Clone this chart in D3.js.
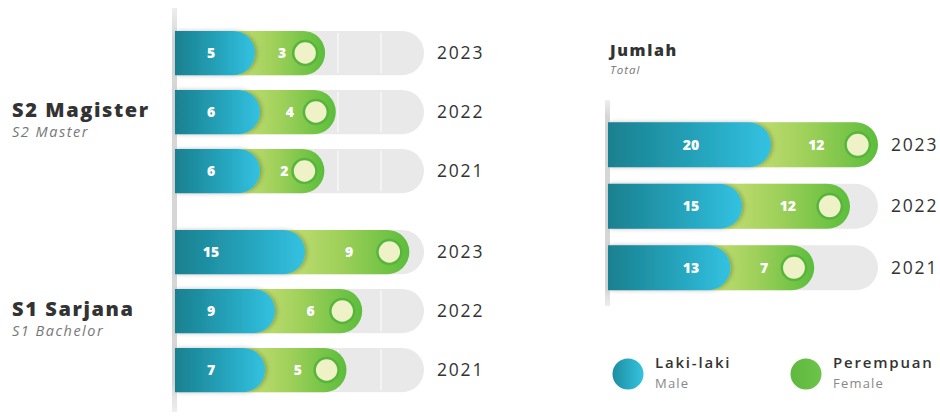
<!DOCTYPE html>
<html><head><meta charset="utf-8">
<script src="https://cdn.jsdelivr.net/npm/d3@7"></script>
<style>
html,body{margin:0;padding:0;background:#fff;}
svg{display:block;}
</style></head>
<body>
<svg id="chart" width="940" height="419"></svg>
<script>
// ---------- data ----------
const years = ["2023", "2022", "2021"];
const s2Male = [5, 6, 6];
const s2Female = [3, 4, 2];
const s1Male = [15, 9, 7];
const s1Female = [9, 6, 5];
const totalMale = [20, 15, 13];
const totalFemale = [12, 12, 7];
const groupTitles = ["S2 Magister", "S1 Sarjana"];
const groupSubtitles = ["S2 Master", "S1 Bachelor"];
const legendLabels = ["Laki-laki", "Perempuan"];
const legendSub = ["Male", "Female"];

// ---------- setup ----------
const svg = d3.select("#chart");
const defs = svg.append("defs");
const FONT = "'Open Sans', 'Noto Sans', sans-serif";

function grad(id, stops) {
  const g = defs.append("linearGradient").attr("id", id)
    .attr("x1", "0%").attr("x2", "100%").attr("y1", "0%").attr("y2", "0%");
  stops.forEach(s => g.append("stop").attr("offset", s[0]).attr("stop-color", s[1]));
}
grad("gMale", [["0%", "#19808f"], ["55%", "#25a3bb"], ["100%", "#33c2e2"]]);
grad("gFemale", [["0%", "#c6df74"], ["45%", "#9fd05a"], ["100%", "#5cbd3c"]]);
const vg = defs.append("linearGradient").attr("id", "gAxis")
  .attr("x1", "0%").attr("x2", "0%").attr("y1", "0%").attr("y2", "100%");
vg.append("stop").attr("offset", "0%").attr("stop-color", "#eeeeee");
vg.append("stop").attr("offset", "8%").attr("stop-color", "#d6d6d6");
vg.append("stop").attr("offset", "92%").attr("stop-color", "#d6d6d6");
vg.append("stop").attr("offset", "100%").attr("stop-color", "#eeeeee");
grad("gLegMale", [["0%", "#1d8ea0"], ["100%", "#35c3e0"]]);
grad("gLegFemale", [["0%", "#5fb93e"], ["100%", "#6cc449"]]);
const f = defs.append("filter").attr("id", "shadow").attr("x", "-10%").attr("y", "-20%")
  .attr("width", "130%").attr("height", "140%");
f.append("feDropShadow").attr("dx", 2).attr("dy", 0).attr("stdDeviation", 2)
  .attr("flood-color", "#000").attr("flood-opacity", 0.25);

function pill(x0, x1, yTop, h) {
  const r = h / 2;
  const xe = Math.max(x0, x1 - r);
  return `M${x0},${yTop}H${xe}A${r},${r} 0 0 1 ${xe},${yTop + h}H${x0}Z`;
}

function drawPanel(cfg) {
  const g = svg.append("g");
  const y = d3.scaleBand().domain(years).range(cfg.yRange)
    .paddingInner(cfg.padIn).paddingOuter(cfg.padOut);
  const h = y.bandwidth();
  const rows = years.map((yr, i) => ({ yr, m: cfg.male[i], f: cfg.female[i] }));

  rows.forEach(d => {
    const yt = y(d.yr);
    const mEnd = cfg.maleEnd(d.m);
    const fEnd = Math.min(cfg.trackEnd, mEnd + cfg.femaleLen(d.f));
    const cx = fEnd - h * 0.45;
    // track
    g.append("path").attr("d", pill(cfg.x0, cfg.trackEnd, yt, h)).attr("fill", "#e9e9e9");
    (cfg.dividers || []).forEach(dx => {
      g.append("rect").attr("x", dx).attr("y", yt + 2).attr("width", 2).attr("height", h - 4)
        .attr("fill", "#f4f4f4");
    });
    // female
    g.append("path").attr("d", pill(mEnd - h / 2, fEnd, yt, h)).attr("fill", "url(#gFemale)");
    // male
    g.append("path").attr("d", pill(cfg.x0, mEnd, yt, h)).attr("fill", "url(#gMale)")
      .attr("filter", "url(#shadow)");
    // knob
    g.append("circle").attr("cx", cx).attr("cy", yt + h / 2).attr("r", h * 0.27)
      .attr("fill", "#eef2c6").attr("stroke", "#58b53c").attr("stroke-width", 2.5);
    // labels
    g.append("text").attr("x", cfg.maleLabelX).attr("y", yt + h / 2 + 5)
      .attr("text-anchor", "middle").attr("fill", "#fff").attr("font-family", FONT)
      .attr("font-weight", 800).attr("font-size", 14).text(d.m);
    g.append("text").attr("x", (mEnd + cx) / 2 + 2).attr("y", yt + h / 2 + 5)
      .attr("text-anchor", "middle").attr("fill", "#fff").attr("font-family", FONT)
      .attr("font-weight", 800).attr("font-size", 14).text(d.f);
    g.append("text").attr("x", cfg.trackEnd + 13).attr("y", yt + h / 2 + 6)
      .attr("fill", "#333").attr("font-family", FONT).attr("font-weight", 500)
      .attr("font-size", 17.5).attr("letter-spacing", 1.8).text(d.yr);
  });

  if (cfg.title) {
    const mid = y(years[1]) + h / 2;
    g.append("text").attr("x", 12).attr("y", mid + 5).attr("fill", "#333")
      .attr("font-family", FONT).attr("font-weight", 800).attr("font-size", 20)
      .attr("letter-spacing", 1.6).text(cfg.title);
    g.append("text").attr("x", 12).attr("y", mid + 25).attr("fill", "#777")
      .attr("font-family", FONT).attr("font-style", "italic").attr("font-size", 14.5)
      .attr("letter-spacing", 1.5).text(cfg.subtitle);
  }
}

// axis strips
svg.append("rect").attr("x", 172).attr("y", 8).attr("width", 5).attr("height", 404)
  .attr("fill", "url(#gAxis)");
svg.append("rect").attr("x", 605).attr("y", 100).attr("width", 5).attr("height", 206)
  .attr("fill", "url(#gAxis)");

// left panel scales
const maleEndL = d3.scaleLinear().domain([0, 15]).range([230, 305]);
const femaleLenL = d3.scaleLinear().domain([0, 10]).range([53, 110]);

drawPanel({ x0: 175, trackEnd: 424, yRange: [23.5, 200.5], padIn: 0.25, padOut: 0.125,
  male: s2Male, female: s2Female, maleEnd: maleEndL, femaleLen: femaleLenL,
  maleLabelX: 211, dividers: [337, 380], title: groupTitles[0], subtitle: groupSubtitles[0] });
drawPanel({ x0: 175, trackEnd: 424, yRange: [222.5, 399.5], padIn: 0.25, padOut: 0.125,
  male: s1Male, female: s1Female, maleEnd: maleEndL, femaleLen: femaleLenL,
  maleLabelX: 211, dividers: [337, 380], title: groupTitles[1], subtitle: groupSubtitles[1] });

// right panel scales
const maleEndR = d3.scaleLinear().domain([0, 20]).range([655, 771]);
const femaleLenR = d3.scaleLinear().domain([0, 12]).range([50, 108]);
drawPanel({ x0: 608, trackEnd: 878, yRange: [114, 298.5], padIn: 0.268, padOut: 0.134,
  male: totalMale, female: totalFemale, maleEnd: maleEndR, femaleLen: femaleLenR,
  maleLabelX: 691 });

svg.append("text").attr("x", 610).attr("y", 56).attr("fill", "#333").attr("font-family", FONT)
  .attr("font-weight", 800).attr("font-size", 16).attr("letter-spacing", 1.6).text("Jumlah");
svg.append("text").attr("x", 610).attr("y", 74).attr("fill", "#777").attr("font-family", FONT)
  .attr("font-style", "italic").attr("font-size", 11.5).attr("letter-spacing", 1).text("Total");

// legend
const legX = [628, 806];
const legFill = ["url(#gLegMale)", "url(#gLegFemale)"];
legX.forEach((lx, i) => {
  svg.append("circle").attr("cx", lx).attr("cy", 374).attr("r", 15.5).attr("fill", legFill[i]);
  svg.append("text").attr("x", lx + 27).attr("y", 368).attr("fill", "#333").attr("font-family", FONT)
    .attr("font-weight", 600).attr("font-size", 15).attr("letter-spacing", 1.8).text(legendLabels[i]);
  svg.append("text").attr("x", lx + 27).attr("y", 388).attr("fill", "#888").attr("font-family", FONT)
    .attr("font-size", 13).attr("letter-spacing", 1.2).text(legendSub[i]);
});
</script>
</body></html>
